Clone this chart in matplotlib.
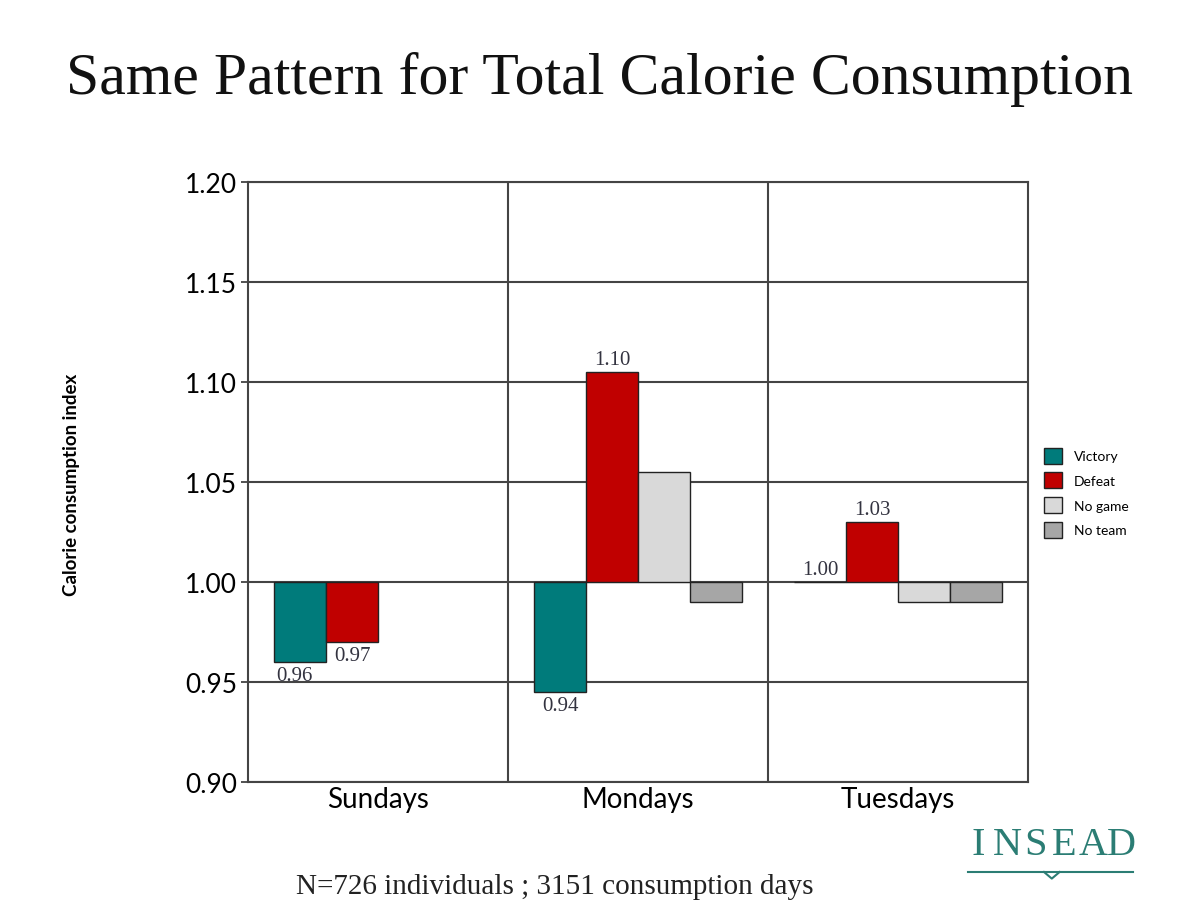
import numpy as np
import matplotlib.pyplot as plt

# данные с картинки
days = ["Sundays", "Mondays", "Tuesdays"]
series = ["Victory", "Defeat", "No game", "No team"]
victory = [0.96, 0.945, 1.00]
defeat = [0.97, 1.105, 1.03]
no_game = [np.nan, 1.055, 0.99]
no_team = [np.nan, 0.99, 0.99]
victory_labels = ["0.96", "0.94", "1.00"]
defeat_labels = ["0.97", "1.10", "1.03"]
yticks = [0.90, 0.95, 1.00, 1.05, 1.10, 1.15, 1.20]

colors = ["#007b7b", "#c00000", "#d9d9d9", "#a6a6a6"]
base = 1.0
width = 0.2

fig = plt.figure(figsize=(12, 9.04), dpi=100)
ax = fig.add_axes([0.2067, 0.1338, 0.65, 0.6637])

x = np.arange(len(days))
all_vals = [victory, defeat, no_game, no_team]
for k, vals in enumerate(all_vals):
    v = np.array(vals, dtype=float)
    pos = x - 0.4 + width * (k + 0.5)
    mask = ~np.isnan(v)
    ax.bar(pos[mask], v[mask] - base, bottom=base, width=width,
           color=colors[k], edgecolor="#222222", linewidth=1.0,
           label=series[k], zorder=3)

# подписи значений
def put_label(xp, val, txt, dx=0):
    if val < base:
        ax.annotate(txt, (xp, val), xytext=(dx, -3), textcoords="offset points",
                    ha="center", va="top", fontsize=15, family="Liberation Serif",
                    color="#333340", zorder=4)
    else:
        ax.annotate(txt, (xp, val), xytext=(dx, 2), textcoords="offset points",
                    ha="center", va="bottom", fontsize=15, family="Liberation Serif",
                    color="#333340", zorder=4)

for i in range(len(days)):
    put_label(x[i] - 0.3, victory[i], victory_labels[i], dx=-4 if i == 0 else 0)
    put_label(x[i] - 0.1, defeat[i], defeat_labels[i])

ax.set_xlim(-0.5, 2.5)
ax.set_ylim(0.90, 1.20)
ax.set_yticks(yticks)
ax.set_yticklabels([f"{t:.2f}" for t in yticks], family="Lato", fontsize=19)
ax.set_xticks(x)
ax.set_xticklabels(days, family="Lato", fontsize=20)
ax.tick_params(axis="x", length=0, pad=3)
ax.tick_params(axis="y", length=5, width=1.2, color="#333333", pad=3)

ax.grid(axis="y", color="#444444", linewidth=1.5, zorder=1)
for xv in [0.5, 1.5]:
    ax.axvline(xv, color="#444444", linewidth=1.5, zorder=1)
for s in ax.spines.values():
    s.set_color("#444444")
    s.set_linewidth(1.5)

ax.set_ylabel("Calorie consumption index", family="Lato", fontsize=13.5,
              fontweight="bold")
ax.yaxis.set_label_coords(-0.215, 0.497)

leg = ax.legend(loc="upper left", bbox_to_anchor=(1.005, 0.578), frameon=False,
                prop={"family": "Lato", "size": 10}, handlelength=1.3,
                handleheight=1.4, labelspacing=0.62, handletextpad=0.8)

fig.text(0.5, 0.912, "Same Pattern for Total Calorie Consumption",
         ha="center", va="center", family="Liberation Serif", fontsize=43,
         color="#111111")
fig.text(0.4625, 0.019, "N=726 individuals ; 3151 consumption days",
         ha="center", va="center", family="Liberation Serif", fontsize=21,
         color="#222222")

# логотип INSEAD
logo = "INSEAD"
for j, ch in enumerate(logo):
    fig.text(0.8155 + j * 0.0238, 0.065, ch, ha="center", va="center",
             family="Liberation Serif", fontsize=29, color="#2b7d74")
fig.add_artist(plt.Line2D([0.807, 0.944], [0.0343, 0.0343], color="#2b7d74",
                          linewidth=1.5, transform=fig.transFigure))
fig.add_artist(plt.Line2D([0.870, 0.8765, 0.883], [0.0343, 0.027, 0.0343],
                          color="#2b7d74", linewidth=1.5,
                          transform=fig.transFigure))

fig.savefig("out.png", dpi=100, facecolor="white")
